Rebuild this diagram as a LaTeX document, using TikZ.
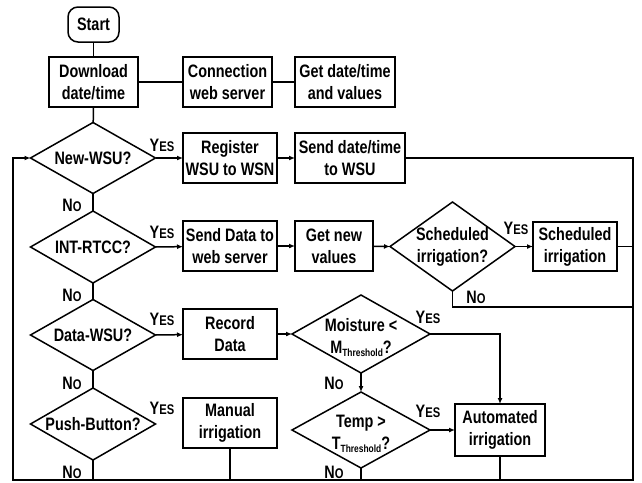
\documentclass[tikz,border=0pt]{standalone}
\usepackage{fontspec}
\setmainfont[FakeStretch=0.8]{Liberation Sans}
\usetikzlibrary{shapes.geometric,arrows.meta}
\newcommand\yeslbl{Y{\fontsize{14}{14}\selectfont ES}}
\newcommand\nolbl{N{\fontsize{14}{14}\selectfont O}}
\newcommand\thr{\raisebox{-3pt}{\fontsize{10.5}{10.5}\selectfont Threshold}}
\begin{document}
\begin{tikzpicture}[x=1pt,y=-1pt,line width=1.5pt,
  font=\fontsize{18}{22}\selectfont\bfseries,
  box/.style={draw,inner sep=0pt,outer sep=0pt,align=center,minimum height=50pt},
  dec/.style={draw,diamond,inner sep=0pt,outer sep=0pt},
  lbl/.style={inner sep=0pt},
  arr/.style={-{Latex[length=6pt,width=5pt]}}]
\useasboundingbox (0,0) rectangle (642,482);
% nodes
\node[box,rounded corners=10pt,minimum width=51pt,minimum height=35pt] (start) at (93.5,24.5) {Start};
\node[box,minimum width=89pt] (dl) at (93.5,82) {Download\\date/time};
\node[box,minimum width=89pt] (conn) at (227.5,82) {Connection\\web server};
\node[box,minimum width=100pt] (getdt) at (345,82) {Get date/time\\and values};
\node[dec,minimum width=125pt,minimum height=71pt,label={center:New-WSU?}] (newwsu) at (93,158) {};
\node[box,minimum width=94pt] (reg) at (230,158) {Register\\WSU to WSN};
\node[box,minimum width=110pt] (senddt) at (350,158) {Send date/time\\to WSU};
\node[dec,minimum width=125pt,minimum height=72pt,label={center:INT-RTCC?}] (intrtcc) at (93,247) {};
\node[box,minimum width=94pt] (senddata) at (230,246) {Send Data to\\web server};
\node[box,minimum width=78pt] (getnew) at (334,246) {Get new\\values};
\node[dec,minimum width=125pt,minimum height=89pt,label={[align=center]center:Scheduled\\irrigation?}] (schedq) at (452.5,246.5) {};
\node[box,minimum width=84pt,minimum height=49pt] (sched) at (575,246.5) {Scheduled\\irrigation};
\node[dec,minimum width=125pt,minimum height=71pt,label={center:Data-WSU?}] (datawsu) at (93,335) {};
\node[box,minimum width=94pt] (record) at (230,334) {Record\\Data};
\node[dec,minimum width=138pt,minimum height=78pt,label={[align=center,yshift=-4pt]center:Moisture <\\M\thr?}] (moist) at (361,334) {};
\node[dec,minimum width=125pt,minimum height=72pt,label={center:Push-Button?}] (push) at (93,424) {};
\node[box,minimum width=94pt] (manual) at (230,423) {Manual\\irrigation};
\node[dec,minimum width=138pt,minimum height=76pt,label={[align=center,yshift=-4pt]center:Temp >\\T\thr?}] (temp) at (361,430) {};
\node[box,minimum width=90pt,minimum height=52pt] (auto) at (500,430) {Automated\\irrigation};
% YES / NO labels
\node[lbl] (y1) at (162,145) {\yeslbl};
\node[lbl] (y2) at (162,232) {\yeslbl};
\node[lbl] (y3) at (162,319) {\yeslbl};
\node[lbl] (y4) at (162,408) {\yeslbl};
\node[lbl] (y5) at (516,228) {\yeslbl};
\node[lbl] (y6) at (428,317) {\yeslbl};
\node[lbl] (y7) at (428,411) {\yeslbl};
\node[lbl] (n1) at (72,205) {\nolbl};
\node[lbl] (n2) at (72,295) {\nolbl};
\node[lbl] (n3) at (72,383) {\nolbl};
\node[lbl] (n4) at (72,472) {\nolbl};
\node[lbl] (n5) at (476,297) {\nolbl};
\node[lbl] (n6) at (334,383) {\nolbl};
\node[lbl] (n7) at (334,472) {\nolbl};
% loop corners
\coordinate (tr) at (633,158);
\coordinate (br) at (633,480);
\coordinate (bl) at (13,480);
\coordinate (tl) at (13,158);
\coordinate (nsq) at (452.5,307);
% connectors
\draw (start) -- (dl);
\draw (dl) -- (conn);
\draw (conn) -- (getdt);
\draw (dl) -- (newwsu);
\draw[arr] (newwsu.east) -- (reg);
\draw[arr] (reg) -- (senddt);
\draw[arr] (senddt.east) -- (tr) -- (br) -- (bl) -- (tl) -- (newwsu.west);
\draw (newwsu.south) -- (intrtcc.north);
\draw (intrtcc.south) -- (datawsu.north);
\draw (datawsu.south) -- (push.north);
\draw (push.south) -- (push.south |- bl);
\draw[arr] (intrtcc.east) -- (senddata);
\draw[arr] (senddata) -- (getnew);
\draw[arr] (getnew) -- (schedq.west);
\draw[arr] (schedq.east) -- (sched);
\draw (sched.east) -- (sched.east -| tr);
\draw (schedq.south) -- (nsq) -- (nsq -| tr);
\draw[arr] (datawsu.east) -- (record);
\draw[arr] (record) -- (moist.west);
\draw[arr] (moist.east) -- (moist.east -| auto.north) -- (auto.north);
\draw[arr] (moist.south) -- (temp.north);
\draw[arr] (temp.east) -- (auto.west);
\draw (temp.south) -- (temp.south |- bl);
\draw (auto.south) -- (auto.south |- bl);
\draw (manual.south) -- (manual.south |- bl);
\end{tikzpicture}
\end{document}
